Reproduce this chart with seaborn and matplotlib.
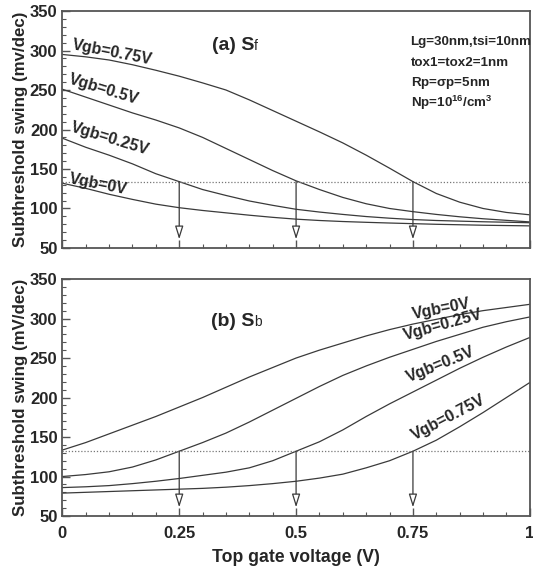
import numpy as np
import pandas as pd
import matplotlib
matplotlib.use("Agg")
import matplotlib.pyplot as plt
import seaborn as sns

# ---------------- data ----------------
x_vals = [0, 0.05, 0.1, 0.15, 0.2, 0.25, 0.3, 0.35, 0.4, 0.45, 0.5,
          0.55, 0.6, 0.65, 0.7, 0.75, 0.8, 0.85, 0.9, 0.95, 1.0]
vgb_labels = ["Vgb=0V", "Vgb=0.25V", "Vgb=0.5V", "Vgb=0.75V"]

sf_0 = [132, 125.5, 118, 111.5, 105.5, 101, 97.5, 94.5, 91.5, 88.8, 86.5,
        84.8, 83.5, 82.5, 81.6, 80.8, 80, 79.4, 78.8, 78.4, 78]
sf_025 = [189, 177.5, 167.5, 156.5, 144, 134, 124, 116.5, 109.5, 104, 99,
          95.5, 92.5, 89.8, 87.7, 86, 84.8, 84, 83.2, 82.6, 82]
sf_05 = [251, 241, 231, 221, 212, 202, 190, 176, 162, 148, 135,
         124, 114, 106, 100, 96, 92.5, 89.5, 87, 85, 83]
sf_075 = [295, 292, 288, 282, 275, 267.5, 259, 250, 237.5, 224, 210.5,
          197, 183, 167.5, 151, 134, 119, 108, 100, 95, 92]

sb_0 = [133.5, 143, 154, 165, 176, 188, 200, 213, 226, 238, 250,
        260, 269, 278, 286, 293, 299, 305, 310, 314, 318]
sb_025 = [100, 102.5, 106, 112, 121, 132, 143, 155, 169, 184, 199,
          214, 228, 240, 251, 261, 271, 280, 289, 296, 302]
sb_05 = [86, 87, 88.5, 91, 94, 97.5, 101.5, 105.5, 111, 120, 132,
         144, 159, 176, 192, 207, 222, 237, 251, 264, 276]
sb_075 = [79, 80, 81, 82, 83, 84, 85, 86.5, 88.5, 91, 94,
          98, 103, 111, 120, 132, 146, 163, 181, 200, 219]

crit_sf = 134
crit_sb = 132
arrow_x = [0.25, 0.5, 0.75]
x_ticks = [0, 0.25, 0.5, 0.75, 1]
x_tick_labels = ["0", "0.25", "0.5", "0.75", "1"]
y_ticks = [50, 100, 150, 200, 250, 300, 350]


def long_df(series):
    rows = []
    for lab, ys in zip(vgb_labels, series):
        for xv, yv in zip(x_vals, ys):
            rows.append({"Vtg": xv, "S": yv, "Vgb": lab})
    return pd.DataFrame(rows)


df_f = long_df([sf_0, sf_025, sf_05, sf_075])
df_b = long_df([sb_0, sb_025, sb_05, sb_075])

# ---------------- style ----------------
sns.set_style("white")
plt.rcParams["font.family"] = ["Liberation Sans", "DejaVu Sans"]
plt.rcParams["font.weight"] = "bold"
plt.rcParams["mathtext.fontset"] = "custom"
plt.rcParams["mathtext.bf"] = "Liberation Sans:bold"
plt.rcParams["mathtext.rm"] = "Liberation Sans"

LC = "#3a3a3a"
SC = "#555555"

fig = plt.figure(figsize=(5.33, 5.71), dpi=100)
ax1 = fig.add_axes([0.117, 0.5657, 0.877, 0.415])
ax2 = fig.add_axes([0.117, 0.0963, 0.877, 0.415])

pal = {lab: LC for lab in vgb_labels}
sns.lineplot(data=df_f, x="Vtg", y="S", hue="Vgb", palette=pal, ax=ax1,
             legend=False, linewidth=0.9)
sns.lineplot(data=df_b, x="Vtg", y="S", hue="Vgb", palette=pal, ax=ax2,
             legend=False, linewidth=0.9)

for ax, crit, ylab in [(ax1, crit_sf, "Subthreshold swing (mv/dec)"),
                       (ax2, crit_sb, "Subthreshold swing (mV/dec)")]:
    ax.set_xlim(0, 1)
    ax.set_ylim(50, 350)
    ax.set_xticks(x_ticks)
    ax.set_xticks(np.arange(0, 1.0001, 0.05), minor=True)
    ax.set_yticks(y_ticks)
    ax.set_yticks(np.arange(50, 351, 10), minor=True)
    ax.tick_params(which="both", direction="in", top=False, right=False,
                   left=True, bottom=True, color=SC)
    ax.tick_params(which="major", length=6, width=1.0, labelsize=12)
    ax.tick_params(which="minor", length=3, width=0.8)
    ax.tick_params(axis="x", which="major", pad=7)
    for s in ax.spines.values():
        s.set_color(SC)
        s.set_linewidth(1.3)
    ax.set_ylabel(ylab, fontsize=12.2, fontweight="bold", labelpad=1)
    ax.axhline(crit, color="#777777", lw=0.9, ls=(0, (1, 1.5)))
    for xa in arrow_x:
        ax.annotate("", xy=(xa, 61), xytext=(xa, crit),
                    arrowprops=dict(arrowstyle="-|>,head_length=0.8,head_width=0.25",
                                    fc="white", ec=LC, lw=0.9,
                                    shrinkA=0, shrinkB=0))
    for lbl in ax.get_yticklabels():
        lbl.set_fontweight("bold")

ax1.set_xticklabels([])
ax1.set_xlabel("")
ax2.set_xticklabels(x_tick_labels, fontweight="bold")
ax2.set_xlabel("Top gate voltage (V)", fontsize=12.7, fontweight="bold", labelpad=6)

# panel titles
ax1.text(0.41, 301, "(a) S", ha="right", va="baseline", fontsize=14, fontweight="bold")
ax1.text(0.41, 301, "f", ha="left", va="baseline", fontsize=10, fontweight="normal")
ax2.text(0.41, 290, "(b) S", ha="right", va="baseline", fontsize=14, fontweight="bold")
ax2.text(0.41, 290, "b", ha="left", va="baseline", fontsize=10, fontweight="normal")

# parameter block
params = ["Lg=30nm,tsi=10nm", "tox1=tox2=1nm", r"Rp=$\mathrm{\sigma}$p=5nm",
          r"Np=10$^{\mathbf{16}}$/cm$^{\mathbf{3}}$"]
for i, t in enumerate(params):
    ax1.text(0.745, 307 - i * 26, t, ha="left", va="baseline",
             fontsize=9.6, fontweight="bold")

# curve labels (top)
top_lbls = [("Vgb=0.75V", 0.106, 297, -11),
            ("Vgb=0.5V", 0.088, 251, -17),
            ("Vgb=0.25V", 0.102, 188, -17),
            ("Vgb=0V", 0.076, 131, -11)]
for t, xx, yy, r in top_lbls:
    ax1.text(xx, yy, t, ha="center", va="center", rotation=r,
             rotation_mode="anchor", fontsize=11.5, fontweight="bold")

bot_lbls = [("Vgb=0V", 0.81, 312, 11),
            ("Vgb=0.25V", 0.814, 292, 15.5),
            ("Vgb=0.5V", 0.81, 242, 22),
            ("Vgb=0.75V", 0.827, 174, 27.5)]
for t, xx, yy, r in bot_lbls:
    ax2.text(xx, yy, t, ha="center", va="center", rotation=r,
             rotation_mode="anchor", fontsize=11.5, fontweight="bold")

fig.savefig("out.png", dpi=100)
